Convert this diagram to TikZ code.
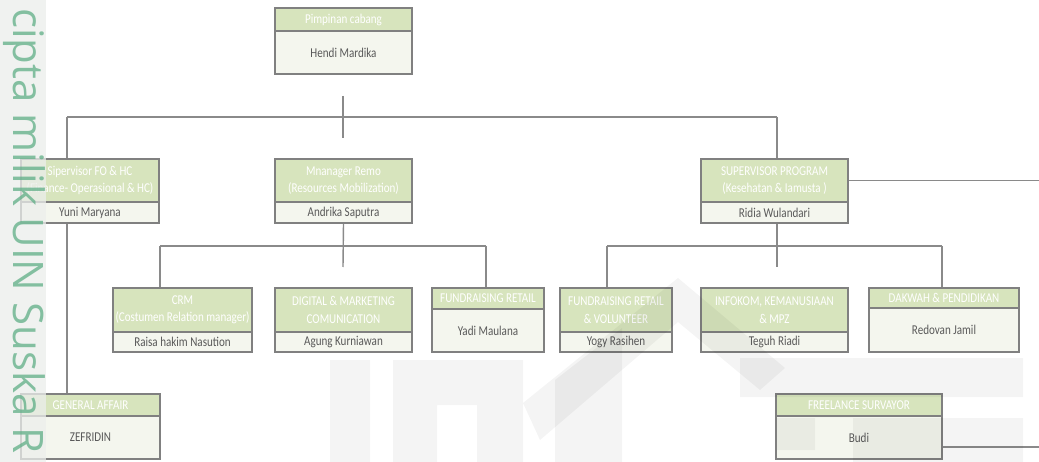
\documentclass[tikz,border=0pt]{standalone}
\usepackage{fontspec}
\usetikzlibrary{backgrounds}
\setmainfont{Carlito}[FakeStretch=0.82]
\newfontfamily\wmfont{Open Sans}
\definecolor{headfill}{HTML}{D7E4BD}
\definecolor{namefill}{HTML}{F4F6EE}
\definecolor{boxline}{HTML}{808080}
\definecolor{linegray}{HTML}{8A8A8A}
\definecolor{nametext}{HTML}{595959}
\definecolor{wmgreen}{HTML}{5FAE86}
\definecolor{stripfill}{HTML}{ECEEEC}
\newcommand\obox[8]{%
  \node[namebox, minimum width={#4-#2}, minimum height={#6-#5}] (#1) at ({(#2+#4)/2},{(#5+#6)/2}) {#8};
  \node[headbox, minimum width={#4-#2}, minimum height={#5-#3}] (#1-h) at ({(#2+#4)/2},{(#3+#5)/2}) {#7};
}
\begin{document}
\begin{tikzpicture}[x=1pt,y=-1pt,
  namebox/.style={draw=boxline, line width=1.5pt, fill=namefill, inner sep=0pt, outer sep=0pt,
    text=nametext, font=\fontsize{13.5}{17.5}\selectfont, align=center},
  headbox/.style={draw=boxline, line width=1.5pt, fill=headfill, inner sep=0pt, outer sep=0pt,
    text=white, font=\fontsize{13.5}{17.5}\selectfont, align=center},
  conn/.style={draw=linegray, line width=1.4pt},
  bus/.style={draw=linegray, line width=2pt},
  wmshape/.style={fill=black, fill opacity=0.045}]
\useasboundingbox (0,0) rectangle (1039,462);
% connector coordinates
\coordinate (t1) at (343,96);
\coordinate (t2) at (343,138);
\coordinate (bL) at (67,117);
\coordinate (bR) at (777,117);
\coordinate (e1) at (1039,180.5);
\coordinate (m1) at (343,267);
\coordinate (m2L) at (160,246);
\coordinate (m2R) at (486,246);
\coordinate (s1) at (777,267);
\coordinate (s2L) at (607,246);
\coordinate (s2R) at (942,246);
\coordinate (e2) at (1039,447);
% boxes
\obox{top}{275}{8}{412}{31}{74}{Pimpinan cabang}{Hendi Mardika}
\obox{sf}{21}{159}{159}{202}{223}{Sipervisor FO \& HC\\(Finance- Operasional \& HC)}{Yuni Maryana}
\obox{mr}{275}{159}{412}{202}{223}{Mnanager Remo\\(Resources Mobilization)}{Andrika Saputra}
\obox{sp}{701}{159}{848}{202}{223}{SUPERVISOR PROGRAM\\(Kesehatan \& Iamusta )}{Ridia Wulandari}
\obox{crm}{113}{288}{252}{332}{352}{CRM\\(Costumen Relation manager)}{Raisa hakim Nasution}
\obox{dm}{275}{288}{412}{332}{352}{DIGITAL \& MARKETING\\COMUNICATION}{Agung Kurniawan}
\obox{fr}{432}{288}{544}{309}{352}{FUNDRAISING RETAIL}{Yadi Maulana}
\obox{frv}{560}{288}{672}{332}{352}{FUNDRAISING RETAIL\\\& VOLUNTEER}{Yogy Rasihen}
\obox{ik}{701}{288}{848}{332}{352}{INFOKOM, KEMANUSIAAN\\\& MPZ}{Teguh Riadi}
\obox{dk}{869}{288}{1019}{308}{352}{DAKWAH \& PENDIDIKAN}{Redovan Jamil}
\obox{ga}{21}{394}{160}{416}{459}{GENERAL AFFAIR}{ZEFRIDIN}
\obox{fs}{776}{394}{942}{416}{459}{FREELANCE SURVAYOR}{Budi}
% connectors, drawn behind the boxes
\begin{pgfonlayer}{background}
\fill[white] (0,0) rectangle (1039,462);
\draw[conn] (t1) -- (t2);
\draw[bus] (bL) -- (bR);
\draw[conn] (bL) -- (bL |- ga-h.north);
\draw[conn] (bR) -- (bR |- sp-h.north);
\draw[conn] (sp-h.east) -- (e1);
\draw[conn] (mr.south) -- (m1);
\draw[conn] (m2L) -- (m2R);
\draw[conn] (m2L) -- (m2L |- crm-h.north);
\draw[conn] (m2R) -- (m2R |- fr-h.north);
\draw[conn] (s1 |- sp.south) -- (s1);
\draw[conn] (s2L) -- (s2R);
\draw[conn] (s2L) -- (s2L |- frv-h.north);
\draw[conn] (s2R) -- (s2R |- dk-h.north);
\draw[conn] (fs.east |- e2) -- (e2);
\end{pgfonlayer}
% faint watermark logo
\fill[wmshape] (330,360) rectangle (370,462)
  (393,462) -- (393,360) -- (523,360) -- (523,462) -- (477,462) -- (477,405) -- (437,405) -- (437,462) -- cycle
  (555,462) -- (555,380) -- (622,328) -- (622,462) -- cycle
  (740,358) rectangle (1023,397)
  (853,418) rectangle (1023,462)
  (777,418) rectangle (815,450);
\fill[wmshape] (523,403) -- (678,278) -- (785,368) -- (760,390) -- (678,322) -- (540,440) -- cycle;
% left watermark strip
\fill[stripfill, fill opacity=0.75] (0,0) rectangle (46,462);
\node[rotate=-90, anchor=base west, inner sep=0pt, text=wmgreen, text opacity=0.75,
  font=\wmfont\fontsize{42}{42}\selectfont] (wm) at (13,8) {cipta milik UIN Suska R};
\end{tikzpicture}
\end{document}
